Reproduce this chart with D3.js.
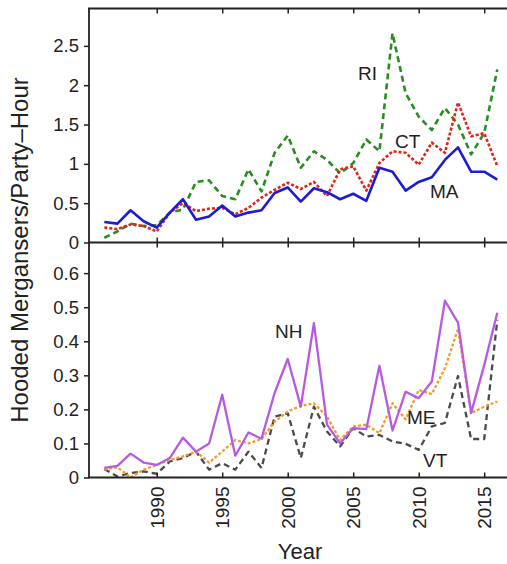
<!DOCTYPE html>
<html><head><meta charset="utf-8">
<script src="https://cdn.jsdelivr.net/npm/d3@7"></script>
<style>body{margin:0;background:#fff}svg{display:block}text{font-family:"Liberation Sans",Arial,sans-serif;fill:#222}</style>
</head><body><svg id="c" width="507" height="564"></svg>
<script>
const years = d3.range(1986, 2017);
const MA = [0.26,0.24,0.41,0.27,0.19,0.38,0.55,0.29,0.33,0.47,0.33,0.38,0.41,0.63,0.70,0.52,0.69,0.64,0.55,0.62,0.53,0.95,0.90,0.66,0.77,0.83,1.05,1.21,0.90,0.90,0.80];
const RI = [0.06,0.14,0.24,0.21,0.22,0.38,0.42,0.77,0.79,0.59,0.55,0.93,0.65,1.14,1.36,0.95,1.16,1.05,0.88,1.01,1.31,1.16,2.66,1.90,1.60,1.43,1.71,1.50,1.12,1.39,2.20];
const CT = [0.19,0.17,0.23,0.21,0.14,0.38,0.50,0.40,0.43,0.44,0.36,0.44,0.57,0.67,0.76,0.68,0.77,0.59,0.93,0.97,0.66,1.01,1.16,1.14,0.99,1.27,1.14,1.78,1.35,1.39,0.97];
const NH = [0.028,0.034,0.07,0.044,0.037,0.057,0.117,0.076,0.10,0.243,0.064,0.132,0.114,0.248,0.348,0.208,0.453,0.155,0.10,0.145,0.142,0.328,0.138,0.252,0.233,0.282,0.519,0.455,0.189,0.33,0.484];
const ME = [0.023,0.03,0.0,0.023,0.037,0.052,0.062,0.076,0.044,0.076,0.11,0.10,0.113,0.164,0.194,0.21,0.218,0.179,0.11,0.15,0.155,0.13,0.218,0.171,0.257,0.245,0.321,0.436,0.189,0.208,0.223];
const VT = [0.025,0.003,0.013,0.018,0.011,0.047,0.057,0.076,0.023,0.042,0.023,0.076,0.028,0.179,0.189,0.057,0.208,0.135,0.091,0.145,0.12,0.125,0.106,0.099,0.081,0.15,0.16,0.298,0.113,0.113,0.463];
const xTicks = [1990,1995,2000,2005,2010,2015];
const topTicks = [0,0.5,1,1.5,2,2.5];
const botTicks = [0,0.1,0.2,0.3,0.4,0.5,0.6];

const svg = d3.select("#c");
const L = 89, R = 507, T = 8.5, M = 242.5, B = 477.5;
const x = d3.scaleLinear().domain([1984.83, 2016.74]).range([L, R]);
const yT = d3.scaleLinear().domain([0, 2.975]).range([M, T]);
const yB = d3.scaleLinear().domain([0, 0.69]).range([B, M]);

function series(vals, y, color, dash, w) {
  const line = d3.line().x((d,i)=>x(years[i])).y(d=>y(d));
  svg.append("path").datum(vals).attr("d", line).attr("fill","none")
    .attr("stroke", color).attr("stroke-width", w).attr("stroke-dasharray", dash)
    .attr("stroke-linejoin","round");
}
series(RI, yT, "#2a8c22", "6,4", 2.6);
series(CT, yT, "#e3221c", "3,2", 2.6);
series(MA, yT, "#1c1cd4", null, 2.6);
series(VT, yB, "#4a4a4a", "6,4", 2.3);
series(ME, yB, "#f59a2a", "3,2", 2.3);
series(NH, yB, "#b75ae2", null, 2.3);

// axes
const ax = svg.append("g").attr("stroke","#222").attr("stroke-width",1.8);
ax.append("line").attr("x1",L).attr("x2",L).attr("y1",T).attr("y2",B);
[T,M,B].forEach(v=>ax.append("line").attr("x1",L-1).attr("x2",R).attr("y1",v).attr("y2",v));

const xa1 = svg.append("g").attr("transform",`translate(0,${T})`).call(d3.axisTop(x).tickValues(xTicks).tickSize(-5).tickFormat(""));
const xa2 = svg.append("g").attr("transform",`translate(0,${M})`).call(d3.axisBottom(x).tickValues(xTicks).tickSize(5).tickFormat(""));
const xa3 = svg.append("g").attr("transform",`translate(0,${M})`).call(d3.axisTop(x).tickValues(xTicks).tickSize(5).tickFormat(""));
const xa4 = svg.append("g").attr("transform",`translate(0,${B})`).call(d3.axisBottom(x).tickValues(xTicks).tickSize(-5).tickFormat(d3.format("d")));
[xa1,xa2,xa3,xa4].forEach(g=>{g.select(".domain").remove(); g.selectAll(".tick line").attr("stroke","#222").attr("stroke-width",1.5);});
xa4.selectAll(".tick text").attr("transform","rotate(-90)").attr("text-anchor","end")
  .attr("x",-9).attr("y",0).attr("dy","0.35em").style("font-size","19px").style("font-family","Liberation Sans, Arial, sans-serif").attr("fill","#222");

const ya1 = svg.append("g").attr("transform",`translate(${L},0)`).call(d3.axisLeft(yT).tickValues(topTicks).tickSize(5).tickPadding(5).tickFormat(d=>String(d)));
const ya2 = svg.append("g").attr("transform",`translate(${L},0)`).call(d3.axisLeft(yB).tickValues(botTicks).tickSize(5).tickPadding(5).tickFormat(d=>String(d)));
[ya1,ya2].forEach(g=>{g.select(".domain").remove(); g.selectAll(".tick line").attr("stroke","#222").attr("stroke-width",1.5);
  g.selectAll(".tick text").style("font-size","18.5px").style("font-family","Liberation Sans, Arial, sans-serif").attr("fill","#222");});

// labels
const lab = (t,xx,yy)=>svg.append("text").attr("x",xx).attr("y",yy).style("font-size","19px").text(t);
lab("RI",358,80); lab("CT",395,148); lab("MA",430,198);
lab("NH",275,338); lab("ME",407,424); lab("VT",423,467);

svg.append("text").attr("x",300).attr("y",559).attr("text-anchor","middle").style("font-size","22px").text("Year");
svg.append("text").attr("transform","translate(28,250) rotate(-90)").attr("text-anchor","middle").style("font-size","24px").text("Hooded Mergansers/Party\u2013Hour");
</script></body></html>
